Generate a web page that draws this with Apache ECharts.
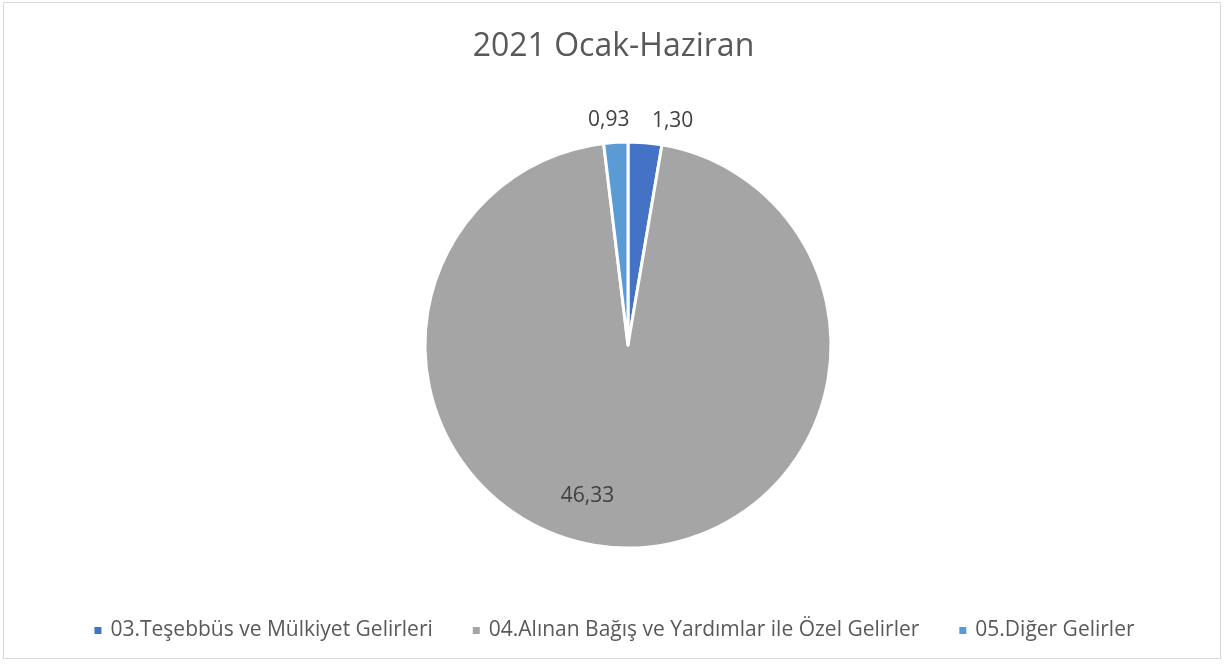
<!DOCTYPE html>
<html>
<head>
<meta charset="utf-8">
<script src="https://cdn.jsdelivr.net/npm/echarts@6/dist/echarts.min.js"></script>
<style>
    html, body { margin: 0; padding: 0; background: #fff; }
    #frame {
        position: absolute; left: 3px; top: 2px;
        width: 1218px; height: 657px;
        border: 1.5px solid #d9d9d9;
        box-sizing: border-box;
    }
    #chart { position: absolute; left: 0; top: 0; width: 1227px; height: 665px; }
</style>
</head>
<body>
<div id="frame"></div>
<div id="chart"></div>
<script>
var categories = ['03.Teşebbüs ve Mülkiyet Gelirleri', '04.Alınan Bağış ve Yardımlar ile Özel Gelirler', '05.Diğer Gelirler'];
var values = [1.30, 46.33, 0.93];
var colors = ['#4472C4', '#A5A5A5', '#5B9BD5'];

var myChart = echarts.init(document.getElementById('chart'));

// dilim etiketleri: küçükler dışarıda, büyük olan içeride
var labelSetup = [
    {position: 'outside', offset: [0, 0]},
    {position: 'inside', offset: [-38, 47]},
    {position: 'outside', offset: [20, 0]}
];

var option = {
    title: {
        text: '2021 Ocak-Haziran',
        left: 'center',
        top: 26,
        textStyle: {
            fontFamily: 'Open Sans',
            fontSize: 32,
            fontWeight: 'normal',
            color: '#595959'
        }
    },
    legend: {
        bottom: 19,
        left: 'center',
        icon: 'rect',
        itemWidth: 9,
        itemHeight: 9,
        itemGap: 38,
        textStyle: {
            fontFamily: 'Open Sans',
            fontSize: 21,
            color: '#595959',
            padding: [0, 0, 0, 3]
        },
        data: categories
    },
    series: [
        {
            name: 'Gelirler',
            type: 'pie',
            center: [628, 345],
            radius: 203,
            startAngle: 90,
            clockwise: true,
            avoidLabelOverlap: false,
            itemStyle: {
                borderColor: '#ffffff',
                borderWidth: 3
            },
            label: {
                fontFamily: 'Open Sans',
                fontSize: 21,
                color: '#404040',
                formatter: function (p) {
                    return p.value.toFixed(2).replace('.', ',');
                }
            },
            labelLine: {
                show: false,
                length: 22,
                length2: 0
            },
            data: function () {
                var res = [];
                for (var i = 0; i < values.length; i++) {
                    res.push({
                        value: values[i],
                        name: categories[i],
                        itemStyle: {color: colors[i]},
                        label: labelSetup[i]
                    });
                }
                return res;
            }()
        }
    ]
};
myChart.setOption(option);
</script>
</body>
</html>
